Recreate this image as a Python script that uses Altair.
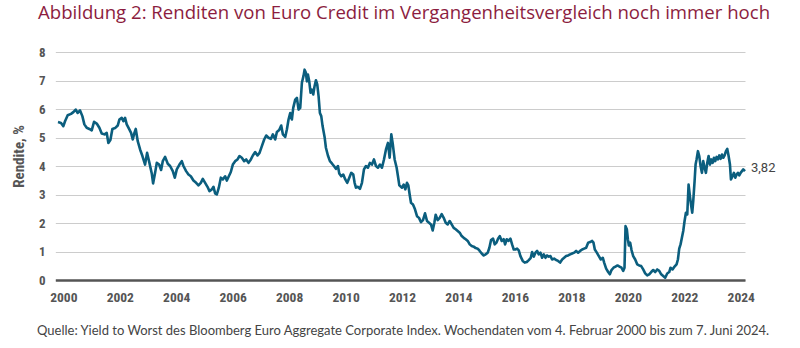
import altair as alt
import pandas as pd

# ---- Data (decimal year, yield in %) ----
dates_a = [2000.095, 2000.202, 2000.285, 2000.344, 2000.438, 2000.556, 2000.639, 2000.722, 2000.793, 2000.876,
           2000.958, 2001.029, 2001.112, 2001.206, 2001.289, 2001.372, 2001.467, 2001.561, 2001.644, 2001.738,
           2001.821, 2001.880, 2001.951, 2002.022, 2002.117, 2002.211, 2002.270, 2002.353, 2002.412, 2002.471,
           2002.530, 2002.613, 2002.684, 2002.743, 2002.802, 2002.850, 2002.920, 2003.003, 2003.086, 2003.180,
           2003.251, 2003.334, 2003.417, 2003.464, 2003.535, 2003.594, 2003.677, 2003.748, 2003.807, 2003.890,
           2003.984]
yields_a = [5.54, 5.51, 5.40, 5.57, 5.78, 5.83, 5.89, 5.98, 5.86, 5.95,
            5.75, 5.46, 5.34, 5.30, 5.25, 5.55, 5.49, 5.34, 5.14, 5.11,
            5.16, 4.81, 4.91, 5.30, 5.33, 5.42, 5.63, 5.69, 5.57, 5.69,
            5.46, 5.30, 5.16, 4.93, 5.16, 5.30, 4.87, 4.58, 4.35, 4.05,
            4.46, 4.11, 3.74, 3.39, 3.76, 4.11, 4.05, 3.86, 4.17, 4.32,
            4.08]

dates_b = [2004.067, 2004.162, 2004.233, 2004.303, 2004.398, 2004.481, 2004.540, 2004.634, 2004.717, 2004.800,
           2004.894, 2004.989, 2005.072, 2005.155, 2005.225, 2005.308, 2005.391, 2005.462, 2005.545, 2005.604,
           2005.663, 2005.722, 2005.793, 2005.864, 2005.935, 2006.017, 2006.077, 2006.147, 2006.218, 2006.289,
           2006.372, 2006.455, 2006.526, 2006.608, 2006.691, 2006.762, 2006.845, 2006.928, 2006.998, 2007.081,
           2007.164, 2007.235, 2007.318, 2007.400, 2007.471, 2007.554, 2007.637, 2007.708, 2007.790, 2007.850,
           2007.932, 2008.003, 2008.062]
yields_b = [4.00, 3.82, 3.59, 3.88, 4.05, 4.17, 4.00, 3.82, 3.70, 3.64,
            3.49, 3.41, 3.32, 3.41, 3.55, 3.41, 3.27, 3.12, 3.18, 3.27,
            3.04, 3.00, 3.24, 3.59, 3.53, 3.64, 3.49, 3.64, 3.79, 4.05,
            4.17, 4.23, 4.35, 4.29, 4.17, 4.23, 4.11, 4.23, 4.37, 4.49,
            4.37, 4.46, 4.70, 4.93, 5.07, 4.99, 4.95, 5.11, 4.93, 5.19,
            5.26, 5.42, 5.11]

dates_c = [2008.145, 2008.204, 2008.263, 2008.322, 2008.381, 2008.429, 2008.500, 2008.559, 2008.618, 2008.677,
           2008.736, 2008.795, 2008.831, 2008.878, 2008.913, 2008.949, 2008.996, 2009.043, 2009.091, 2009.138,
           2009.185, 2009.233, 2009.280, 2009.327, 2009.374, 2009.422, 2009.469, 2009.540, 2009.587, 2009.658,
           2009.729, 2009.800, 2009.871, 2009.942, 2010.013, 2010.060, 2010.131, 2010.202, 2010.273, 2010.344,
           2010.415, 2010.485, 2010.556, 2010.604, 2010.651, 2010.722, 2010.793, 2010.864, 2010.935, 2011.006,
           2011.076, 2011.147, 2011.218, 2011.289, 2011.360, 2011.431, 2011.502, 2011.573, 2011.644, 2011.715,
           2011.786, 2011.845, 2011.904, 2011.951, 2012.022, 2012.093, 2012.140, 2012.188]
yields_c = [5.02, 5.28, 5.63, 5.86, 5.63, 6.04, 6.33, 6.39, 5.98, 6.04,
            6.92, 7.17, 7.38, 7.27, 6.97, 7.21, 6.97, 6.57, 6.68, 6.51,
            6.80, 7.01, 6.86, 6.45, 5.86, 5.75, 5.40, 5.02, 4.64, 4.37,
            4.17, 4.09, 4.00, 3.90, 4.00, 3.74, 3.64, 3.70, 3.53, 3.41,
            3.59, 3.76, 3.70, 3.41, 3.24, 3.27, 3.20, 3.41, 3.88, 4.00,
            3.94, 4.11, 4.05, 4.23, 4.00, 3.94, 4.05, 3.94, 4.23, 4.58,
            4.81, 4.29, 5.11, 4.81, 4.23, 3.94, 3.64, 3.32]

dates_d = [2012.282, 2012.341, 2012.400, 2012.459, 2012.507, 2012.554, 2012.601, 2012.672, 2012.743, 2012.814,
           2012.885, 2012.956, 2013.027, 2013.098, 2013.169, 2013.240, 2013.310, 2013.370, 2013.429, 2013.476,
           2013.547, 2013.618, 2013.689, 2013.760, 2013.831, 2013.902, 2013.972, 2014.043, 2014.114, 2014.185,
           2014.256, 2014.327, 2014.398, 2014.469, 2014.540, 2014.611, 2014.682, 2014.753, 2014.824, 2014.894,
           2014.965, 2015.036, 2015.107, 2015.178, 2015.249, 2015.320, 2015.379, 2015.438, 2015.509, 2015.568,
           2015.627, 2015.686, 2015.746, 2015.816, 2015.887, 2015.935, 2015.994, 2016.053, 2016.124, 2016.183,
           2016.242]
yields_d = [3.24, 3.35, 3.18, 3.41, 3.32, 3.00, 2.71, 2.65, 2.48, 2.24,
            2.18, 2.03, 2.10, 2.34, 2.07, 2.01, 1.95, 1.74, 2.01, 2.29,
            2.10, 2.18, 2.31, 2.18, 2.01, 1.95, 2.07, 1.95, 1.83, 1.78,
            1.72, 1.66, 1.54, 1.48, 1.43, 1.37, 1.25, 1.19, 1.17, 1.12,
            1.10, 1.02, 0.93, 0.86, 0.90, 0.96, 1.13, 1.40, 1.45, 1.25,
            1.31, 1.45, 1.54, 1.37, 1.43, 1.25, 1.43, 1.37, 1.45, 1.25,
            1.07]

dates_e = [2016.301, 2016.360, 2016.419, 2016.478, 2016.561, 2016.632, 2016.703, 2016.774, 2016.845, 2016.892,
           2016.951, 2017.010, 2017.069, 2017.128, 2017.188, 2017.247, 2017.306, 2017.365, 2017.424, 2017.483,
           2017.542, 2017.601, 2017.672, 2017.743, 2017.814, 2017.885, 2017.956, 2018.027, 2018.098, 2018.169,
           2018.240, 2018.311, 2018.381, 2018.452, 2018.523, 2018.594, 2018.665, 2018.736, 2018.807, 2018.878,
           2018.949, 2019.020, 2019.067, 2019.114, 2019.185, 2019.256, 2019.327, 2019.398, 2019.445, 2019.516,
           2019.587, 2019.646, 2019.705, 2019.776, 2019.847, 2019.918, 2019.989, 2020.060, 2020.119, 2020.166,
           2020.202, 2020.249, 2020.285, 2020.320, 2020.367]
yields_e = [1.07, 1.10, 1.04, 0.84, 0.67, 0.61, 0.63, 0.70, 0.78, 0.98,
            0.82, 0.96, 1.02, 0.90, 0.96, 0.78, 0.90, 0.78, 0.86, 0.82,
            0.84, 0.72, 0.75, 0.70, 0.67, 0.61, 0.72, 0.78, 0.84, 0.86,
            0.90, 0.93, 0.96, 1.02, 0.96, 1.02, 1.07, 1.10, 1.13, 1.31,
            1.33, 1.37, 1.31, 1.07, 0.96, 0.84, 0.72, 0.78, 0.61, 0.40,
            0.28, 0.20, 0.35, 0.43, 0.47, 0.51, 0.47, 0.43, 0.32, 0.43,
            1.89, 1.78, 1.43, 1.21, 1.31]

dates_f = [2020.415, 2020.474, 2020.545, 2020.615, 2020.686, 2020.757, 2020.828, 2020.899, 2020.970, 2021.041,
           2021.112, 2021.183, 2021.254, 2021.325, 2021.396, 2021.466, 2021.537, 2021.608, 2021.679, 2021.750,
           2021.797, 2021.868, 2021.939, 2022.010, 2022.058, 2022.105, 2022.152, 2022.199, 2022.247, 2022.294,
           2022.341, 2022.389, 2022.436, 2022.483, 2022.530, 2022.566, 2022.601, 2022.649, 2022.684, 2022.719,
           2022.767, 2022.814, 2022.861, 2022.909, 2022.956, 2023.003, 2023.050, 2023.098, 2023.145, 2023.192,
           2023.240, 2023.287, 2023.334, 2023.381, 2023.429, 2023.476, 2023.523, 2023.570, 2023.618, 2023.665,
           2023.712, 2023.760, 2023.807, 2023.854, 2023.902, 2023.937, 2023.996, 2024.043, 2024.091, 2024.138,
           2024.185, 2024.232, 2024.280, 2024.327, 2024.374, 2024.435]
yields_f = [1.05, 0.84, 0.72, 0.55, 0.51, 0.49, 0.37, 0.23, 0.16, 0.20,
            0.28, 0.35, 0.28, 0.37, 0.32, 0.20, 0.14, 0.08, 0.23, 0.28,
            0.43, 0.37, 0.47, 0.55, 0.72, 1.10, 1.25, 1.48, 1.72, 2.07,
            2.36, 2.30, 3.35, 2.94, 2.59, 2.36, 2.77, 3.47, 4.05, 4.23,
            4.52, 4.35, 4.00, 3.76, 4.17, 3.94, 3.76, 4.11, 4.35, 4.05,
            4.23, 4.11, 4.29, 4.17, 4.32, 4.23, 4.37, 4.25, 4.40, 4.29,
            4.37, 4.52, 4.60, 4.35, 4.05, 3.53, 3.64, 3.76, 3.59, 3.70,
            3.76, 3.67, 3.76, 3.82, 3.88, 3.82]

x_tick_years = list(range(2000, 2025, 2))
y_ticks = [0, 1, 2, 3, 4, 5, 6, 7, 8]

title_text = "Abbildung 2: Renditen von Euro Credit im Vergangenheitsvergleich noch immer hoch"
source_text = ("Quelle: Yield to Worst des Bloomberg Euro Aggregate Corporate Index. "
               "Wochendaten vom 4. Februar 2000 bis zum 7. Juni 2024.")
y_title = "Rendite, %"

# ---- Build table ----
dates, yields = [], []
for d, v in [(dates_a, yields_a), (dates_b, yields_b), (dates_c, yields_c),
             (dates_d, yields_d), (dates_e, yields_e), (dates_f, yields_f)]:
    assert len(d) == len(v), (len(d), len(v))
    dates += d
    yields += v

df = pd.DataFrame({"jahr": dates, "rendite": yields})
last = df.tail(1).copy()
last["label"] = last["rendite"].map(lambda v: f"{v:.2f}".replace(".", ","))

W, H = 687, 228
LINE_COLOR = "#0b5e7e"
AXIS_FONT = "Liberation Sans Narrow, Roboto Condensed, DejaVu Sans Condensed, Roboto, sans-serif"
TEXT_FONT = "Open Sans, Lato, sans-serif"

# domain starts at the 2000 tick; range start chosen so the first weekly point sits at the left edge
x_start, x_end = 2000, max(dates)
px_per_year = W / (x_end - min(dates))
x_scale = alt.Scale(domain=[x_start, x_end], range=[-(min(dates) - x_start) * px_per_year, W],
                    nice=False, zero=False)
y_scale = alt.Scale(domain=[0, 8], nice=False, zero=True)

x_axis = alt.Axis(values=x_tick_years, format="d", grid=False, ticks=False, tickSize=0,
                  domain=True, domainColor="#555555", domainWidth=2.5,
                  labelFont=AXIS_FONT, labelFontSize=13.5, labelFontWeight="bold",
                  labelColor="#555555", labelPadding=10, labelOffset=8, labelOverlap=False,
                  labelFlush=False, title=None)
y_axis = alt.Axis(values=y_ticks, grid=True, gridColor="#cccccc", gridWidth=1,
                  domain=False, ticks=False, tickSize=0, labelOverlap=False,
                  labelFont=AXIS_FONT, labelFontSize=13, labelFontWeight="bold",
                  labelColor="#555555", labelPadding=13,
                  title=y_title, titleFont=AXIS_FONT, titleFontSize=15,
                  titleFontWeight="bold", titleColor="#555555",
                  titleAngle=270, titleAlign="center", titleBaseline="middle",
                  titleX=-40, titleY=104)

line = alt.Chart(df).mark_line(color=LINE_COLOR, strokeWidth=2.6, strokeJoin="round").encode(
    x=alt.X("jahr:Q", scale=x_scale, axis=x_axis),
    y=alt.Y("rendite:Q", scale=y_scale, axis=y_axis),
)

end_label = alt.Chart(last).mark_text(
    align="left", baseline="middle", dx=6, dy=-3,
    font="Roboto, sans-serif", fontSize=13, color="#444444"
).encode(
    x=alt.X("jahr:Q", scale=x_scale, axis=x_axis),
    y=alt.Y("rendite:Q", scale=y_scale, axis=y_axis),
    text="label:N",
)

title = alt.Chart(pd.DataFrame({"t": [title_text]})).mark_text(
    align="left", baseline="alphabetic", font=TEXT_FONT, fontSize=18.6,
    color="#8c1d40"
).encode(x=alt.value(-20), y=alt.value(-33), text="t:N")

source = alt.Chart(pd.DataFrame({"t": [source_text]})).mark_text(
    align="left", baseline="alphabetic", font="Lato, sans-serif", fontSize=13,
    color="#444444"
).encode(x=alt.value(-21), y=alt.value(283), text="t:N")

chart = alt.layer(line, end_label, title, source).properties(
    width=W, height=H,
    autosize=alt.AutoSizeParams(type="none"),
    padding={"left": 58, "top": 52, "right": 55, "bottom": 68},
    background="white",
).configure_view(stroke=None)

chart.save("out.html", embed_options={"renderer": "svg", "actions": False})
